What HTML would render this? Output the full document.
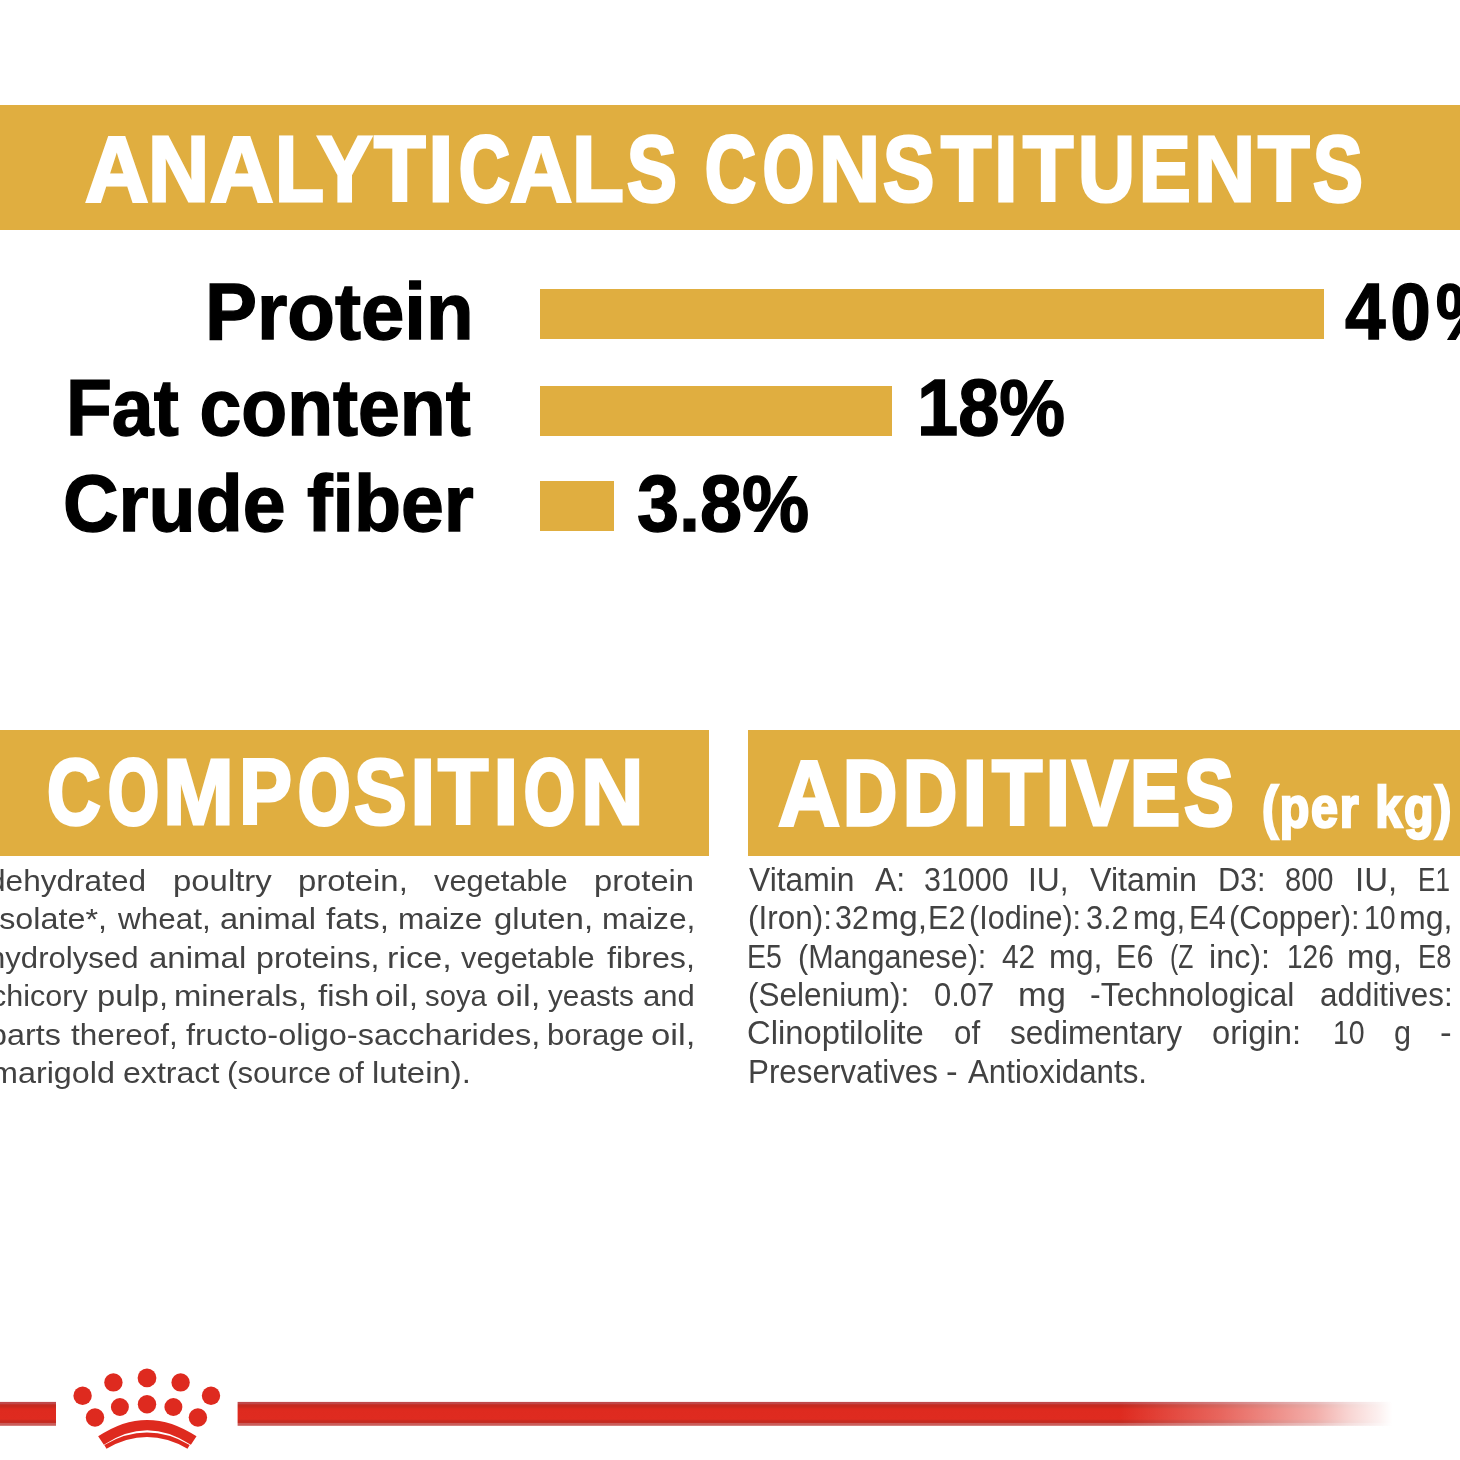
<!DOCTYPE html>
<html><head><meta charset="utf-8"><title>Analyticals constituents</title><style>
html,body{margin:0;padding:0;background:#fff;}
body{width:1460px;height:1460px;position:relative;overflow:hidden;font-family:"Liberation Sans",sans-serif;}
.b{position:absolute;background:#E0AE40;}
.t{position:absolute;white-space:pre;transform-origin:0 0;font-weight:bold;font-family:"Liberation Sans",sans-serif;}
.bt span{position:absolute;white-space:pre;transform-origin:0 0;color:#424242;}
.bl span{font-size:30px;line-height:30px;}
.br span{font-size:32.5px;line-height:32.5px;}
.logo{position:absolute;left:-10px;top:1350px;filter:blur(0.5px);}
.t,.bt,.hl{filter:blur(0.55px);}
.hl{position:absolute;left:0;width:1460px;height:100px;color:#fff;font-weight:bold;}
.hl span{position:absolute;top:0;transform-origin:0 0;white-space:pre;}
.bt{position:absolute;left:0;top:0;width:1460px;height:1460px;}
</style></head>
<body>
<div class="b" style="left:0;top:104.6px;width:1460px;height:125.4px"></div>
<div class="b" style="left:0;top:730px;width:708.7px;height:125.8px"></div>
<div class="b" style="left:747.9px;top:730px;width:712.1px;height:125.8px"></div>
<div class="b" style="left:539.7px;top:288.8px;width:784.7px;height:50.5px"></div>
<div class="b" style="left:539.7px;top:385.8px;width:352.2px;height:50px"></div>
<div class="b" style="left:539.7px;top:481px;width:74.0px;height:50.3px"></div>
<div id="h1" class="hl" style="top:122.45px;font-size:93.50px;line-height:93.50px;-webkit-text-stroke:3px #fff;"><span style="left:85.2px;transform:scaleX(0.940);">A</span><span style="left:148.2px;transform:scaleX(0.906);">N</span><span style="left:210.2px;transform:scaleX(0.940);">A</span><span style="left:274.7px;transform:scaleX(0.858);">L</span><span style="left:317.2px;transform:scaleX(0.888);">Y</span><span style="left:374.3px;transform:scaleX(0.902);">T</span><span style="left:427.8px;transform:scaleX(0.987);">I</span><span style="left:458.6px;transform:scaleX(0.752);-webkit-text-stroke-width:3.8px;">C</span><span style="left:510.2px;transform:scaleX(0.921);">A</span><span style="left:571.9px;transform:scaleX(0.907);">L</span><span style="left:626.6px;transform:scaleX(0.798);-webkit-text-stroke-width:3.4px;">S</span> <span style="left:704.9px;transform:scaleX(0.752);-webkit-text-stroke-width:3.8px;">C</span><span style="left:762.6px;transform:scaleX(0.700);-webkit-text-stroke-width:4.2px;">O</span><span style="left:819.4px;transform:scaleX(0.906);">N</span><span style="left:882.8px;transform:scaleX(0.822);-webkit-text-stroke-width:3.2px;">S</span><span style="left:940.5px;transform:scaleX(0.881);">T</span><span style="left:994.4px;transform:scaleX(0.911);">I</span><span style="left:1023.0px;transform:scaleX(0.881);">T</span><span style="left:1077.8px;transform:scaleX(0.845);">U</span><span style="left:1138.6px;transform:scaleX(0.828);-webkit-text-stroke-width:3.2px;">E</span><span style="left:1194.4px;transform:scaleX(0.906);">N</span><span style="left:1258.0px;transform:scaleX(0.902);">T</span><span style="left:1312.9px;transform:scaleX(0.798);-webkit-text-stroke-width:3.4px;">S</span></div>
<div id="h2" class="hl" style="top:745.44px;font-size:93.40px;line-height:93.40px;-webkit-text-stroke:3px #fff;"><span style="left:47.1px;transform:scaleX(0.796);-webkit-text-stroke-width:3.4px;">C</span><span style="left:107.6px;transform:scaleX(0.701);-webkit-text-stroke-width:4.2px;">O</span><span style="left:163.2px;transform:scaleX(0.910);">M</span><span style="left:238.5px;transform:scaleX(0.851);">P</span><span style="left:297.5px;transform:scaleX(0.720);-webkit-text-stroke-width:4.1px;">O</span><span style="left:353.9px;transform:scaleX(0.847);">S</span><span style="left:410.3px;transform:scaleX(0.988);">I</span><span style="left:438.0px;transform:scaleX(0.882);">T</span><span style="left:492.8px;transform:scaleX(0.988);">I</span><span style="left:523.9px;transform:scaleX(0.701);-webkit-text-stroke-width:4.2px;">O</span><span style="left:580.6px;transform:scaleX(0.928);">N</span></div>
<div id="h3" class="hl" style="top:745.74px;font-size:93.40px;line-height:93.40px;-webkit-text-stroke:3px #fff;"><span style="left:777.7px;transform:scaleX(0.922);">A</span><span style="left:842.6px;transform:scaleX(0.804);-webkit-text-stroke-width:3.4px;">D</span><span style="left:902.6px;transform:scaleX(0.804);-webkit-text-stroke-width:3.4px;">D</span><span style="left:961.6px;transform:scaleX(0.988);">I</span><span style="left:991.7px;transform:scaleX(0.882);">T</span><span style="left:1045.3px;transform:scaleX(0.988);">I</span><span style="left:1071.9px;transform:scaleX(0.901);">V</span><span style="left:1130.1px;transform:scaleX(0.804);-webkit-text-stroke-width:3.4px;">E</span><span style="left:1184.1px;transform:scaleX(0.799);-webkit-text-stroke-width:3.4px;">S</span></div>
<div id="h4" class="t" style="left:1261.60px;top:777.80px;font-size:58.00px;line-height:58.00px;color:#fff;transform:scaleX(0.8350);-webkit-text-stroke:2.6px #fff;letter-spacing:2px;">(per kg)</div>
<div id="l1" class="t" style="left:204.72px;top:271.95px;font-size:79.80px;line-height:79.80px;color:#000;transform:scaleX(0.9772);-webkit-text-stroke:1.4px #000;">Protein</div>
<div id="l2" class="t" style="left:65.90px;top:368.15px;font-size:79.80px;line-height:79.80px;color:#000;transform:scaleX(0.9411);-webkit-text-stroke:1.4px #000;">Fat content</div>
<div id="l3" class="t" style="left:62.54px;top:464.25px;font-size:79.80px;line-height:79.80px;color:#000;transform:scaleX(0.9652);-webkit-text-stroke:1.4px #000;">Crude fiber</div>
<div id="v1" class="t" style="left:1344.80px;top:271.77px;font-size:79.30px;line-height:79.30px;color:#000;transform:scaleX(0.9200);-webkit-text-stroke:1.4px #000;letter-spacing:5.2px;">40%</div>
<div id="v2" class="t" style="left:916.88px;top:368.47px;font-size:79.30px;line-height:79.30px;color:#000;transform:scaleX(0.9332);-webkit-text-stroke:1.4px #000;">18%</div>
<div id="v3" class="t" style="left:636.90px;top:464.17px;font-size:79.30px;line-height:79.30px;color:#000;transform:scaleX(0.9527);-webkit-text-stroke:1.4px #000;">3.8%</div>
<div class="bt bl"><span style="left:-12.4px;top:865.7px;transform:scaleX(1.053)">dehydrated</span> <span style="left:172.5px;top:865.7px;transform:scaleX(1.097)">poultry</span> <span style="left:298.0px;top:865.7px;transform:scaleX(1.097)">protein,</span> <span style="left:433.8px;top:865.7px;transform:scaleX(1.027)">vegetable</span> <span style="left:594.3px;top:865.7px;transform:scaleX(1.091)">protein</span> 
 <span style="left:-8.3px;top:904.2px;transform:scaleX(1.077)">isolate*,</span> <span style="left:117.5px;top:904.2px;transform:scaleX(1.049)">wheat,</span> <span style="left:219.9px;top:904.2px;transform:scaleX(1.086)">animal</span> <span style="left:325.9px;top:904.2px;transform:scaleX(1.111)">fats,</span> <span style="left:398.1px;top:904.2px;transform:scaleX(1.054)">maize</span> <span style="left:493.7px;top:904.2px;transform:scaleX(1.100)">gluten,</span> <span style="left:601.8px;top:904.2px;transform:scaleX(1.057)">maize,</span> 
 <span style="left:-12.1px;top:942.6px;transform:scaleX(1.037)">hydrolysed</span> <span style="left:148.7px;top:942.6px;transform:scaleX(1.100)">animal</span> <span style="left:255.6px;top:942.6px;transform:scaleX(1.073)">proteins,</span> <span style="left:386.7px;top:942.6px;transform:scaleX(1.143)">rice,</span> <span style="left:461.2px;top:942.6px;transform:scaleX(1.027)">vegetable</span> <span style="left:607.2px;top:942.6px;transform:scaleX(1.077)">fibres,</span> 
 <span style="left:-9.2px;top:981.0px;transform:scaleX(1.017)">chicory</span> <span style="left:96.8px;top:981.0px;transform:scaleX(1.093)">pulp,</span> <span style="left:174.3px;top:981.0px;transform:scaleX(1.093)">minerals,</span> <span style="left:318.2px;top:981.0px;transform:scaleX(1.096)">fish</span> <span style="left:374.9px;top:981.0px;transform:scaleX(1.123)">oil,</span> <span style="left:425.4px;top:981.0px;transform:scaleX(0.977)">soya</span> <span style="left:496.1px;top:981.0px;transform:scaleX(1.159)">oil,</span> <span style="left:547.5px;top:981.0px;transform:scaleX(0.991)">yeasts</span> <span style="left:642.5px;top:981.0px;transform:scaleX(1.035)">and</span> 
 <span style="left:-10.7px;top:1019.5px;transform:scaleX(1.077)">parts</span> <span style="left:70.9px;top:1019.5px;transform:scaleX(1.048)">thereof,</span> <span style="left:185.9px;top:1019.5px;transform:scaleX(1.084)">fructo-oligo-saccharides,</span> <span style="left:546.9px;top:1019.5px;transform:scaleX(1.038)">borage</span> <span style="left:651.1px;top:1019.5px;transform:scaleX(1.159)">oil,</span> 
 <span style="left:-9.3px;top:1057.9px;transform:scaleX(1.077)">marigold</span> <span style="left:122.5px;top:1057.9px;transform:scaleX(1.070)">extract</span> <span style="left:226.9px;top:1057.9px;transform:scaleX(1.040)">(source</span> <span style="left:337.8px;top:1057.9px;transform:scaleX(1.029)">of</span> <span style="left:372.0px;top:1057.9px;transform:scaleX(1.099)">lutein).</span> 
</div>
<div class="bt br"><span style="left:748.8px;top:863.6px;transform:scaleX(0.979)">Vitamin</span> <span style="left:875.0px;top:863.6px;transform:scaleX(0.984)">A:</span> <span style="left:923.8px;top:863.6px;transform:scaleX(0.937)">31000</span> <span style="left:1028.4px;top:863.6px;transform:scaleX(0.979)">IU,</span> <span style="left:1090.0px;top:863.6px;transform:scaleX(0.991)">Vitamin</span> <span style="left:1217.6px;top:863.6px;transform:scaleX(0.941)">D3:</span> <span style="left:1285.1px;top:863.6px;transform:scaleX(0.895)">800</span> <span style="left:1354.5px;top:863.6px;transform:scaleX(1.014)">IU,</span> <span style="left:1417.9px;top:863.6px;transform:scaleX(0.804)">E1</span> 
 <span style="left:747.6px;top:902.1px;transform:scaleX(0.968)">(Iron):</span> <span style="left:835.0px;top:902.1px;transform:scaleX(0.934)">32</span> <span style="left:870.5px;top:902.1px;transform:scaleX(1.037)">mg,</span> <span style="left:927.5px;top:902.1px;transform:scaleX(0.944)">E2</span> <span style="left:969.4px;top:902.1px;transform:scaleX(0.940)">(Iodine):</span> <span style="left:1086.3px;top:902.1px;transform:scaleX(0.940)">3.2</span> <span style="left:1133.1px;top:902.1px;transform:scaleX(0.962)">mg,</span> <span style="left:1188.8px;top:902.1px;transform:scaleX(0.927)">E4</span> <span style="left:1229.4px;top:902.1px;transform:scaleX(0.952)">(Copper):</span> <span style="left:1364.3px;top:902.1px;transform:scaleX(0.876)">10</span> <span style="left:1399.3px;top:902.1px;transform:scaleX(0.987)">mg,</span> 
 <span style="left:747.2px;top:940.5px;transform:scaleX(0.880)">E5</span> <span style="left:798.2px;top:940.5px;transform:scaleX(0.939)">(Manganese):</span> <span style="left:1001.9px;top:940.5px;transform:scaleX(0.916)">42</span> <span style="left:1049.3px;top:940.5px;transform:scaleX(0.987)">mg,</span> <span style="left:1116.3px;top:940.5px;transform:scaleX(0.944)">E6</span> <span style="left:1169.8px;top:940.5px;transform:scaleX(0.760)">(Z</span> <span style="left:1209.3px;top:940.5px;transform:scaleX(0.995)">inc):</span> <span style="left:1286.8px;top:940.5px;transform:scaleX(0.863)">126</span> <span style="left:1346.8px;top:940.5px;transform:scaleX(1.012)">mg,</span> <span style="left:1417.8px;top:940.5px;transform:scaleX(0.839)">E8</span> 
 <span style="left:747.6px;top:978.9px;transform:scaleX(0.970)">(Selenium):</span> <span style="left:933.8px;top:978.9px;transform:scaleX(0.951)">0.07</span> <span style="left:1017.9px;top:978.9px;transform:scaleX(1.060)">mg</span> <span style="left:1090.0px;top:978.9px;transform:scaleX(0.984)">-Technological</span> <span style="left:1320.0px;top:978.9px;transform:scaleX(0.966)">additives:</span> 
 <span style="left:747.1px;top:1017.4px;transform:scaleX(1.009)">Clinoptilolite</span> <span style="left:953.8px;top:1017.4px;transform:scaleX(0.962)">of</span> <span style="left:1010.3px;top:1017.4px;transform:scaleX(0.972)">sedimentary</span> <span style="left:1212.4px;top:1017.4px;transform:scaleX(1.006)">origin:</span> <span style="left:1333.0px;top:1017.4px;transform:scaleX(0.876)">10</span> <span style="left:1393.8px;top:1017.4px;transform:scaleX(0.940)">g</span> <span style="left:1439.8px;top:1017.4px;transform:scaleX(1.077)">-</span> 
 <span style="left:747.5px;top:1055.8px;transform:scaleX(0.965)">Preservatives</span> <span style="left:946.1px;top:1055.8px;transform:scaleX(1.077)">-</span> <span style="left:967.5px;top:1055.8px;transform:scaleX(0.962)">Antioxidants.</span> 
</div>
<svg class="logo" width="1480" height="110" viewBox="-10 1350 1480 110">
<defs>
<linearGradient id="bar" x1="0" x2="0" y1="1401.9" y2="1425.8" gradientUnits="userSpaceOnUse">
<stop offset="0" stop-color="#c0494b"/><stop offset="0.08" stop-color="#c0494b"/><stop offset="0.12" stop-color="#c62a20"/><stop offset="0.2" stop-color="#c82a1f"/>
<stop offset="0.3" stop-color="#DE2A1F"/><stop offset="0.72" stop-color="#df2b20"/><stop offset="0.8" stop-color="#c62a20"/><stop offset="0.86" stop-color="#c62a20"/><stop offset="0.9" stop-color="#cb5b58"/><stop offset="1" stop-color="#c95f5c"/></linearGradient>
<linearGradient id="fade" x1="1120" x2="1392" y1="0" y2="0" gradientUnits="userSpaceOnUse">
<stop offset="0" stop-color="#fff" stop-opacity="0"/><stop offset="0.37" stop-color="#fff" stop-opacity="0.28"/><stop offset="0.55" stop-color="#fff" stop-opacity="0.45"/><stop offset="0.72" stop-color="#fff" stop-opacity="0.62"/><stop offset="0.84" stop-color="#fff" stop-opacity="0.8"/><stop offset="0.95" stop-color="#fff" stop-opacity="0.93"/><stop offset="1" stop-color="#fff" stop-opacity="1"/></linearGradient></defs>
<rect x="-10" y="1401.9" width="66" height="23.9" fill="url(#bar)"/>
<rect x="237.6" y="1401.9" width="1155" height="23.9" fill="url(#bar)"/>
<rect x="1120" y="1400" width="274" height="28" fill="url(#fade)"/>
<g fill="#DE2A1F">
<circle cx="82.6" cy="1395.7" r="9.2"/><circle cx="113.4" cy="1382.4" r="9.2"/><circle cx="147" cy="1377.9" r="9.4"/><circle cx="180.6" cy="1382.4" r="9.2"/><circle cx="211" cy="1395.7" r="9.2"/>
<circle cx="95" cy="1417.5" r="9.2"/><circle cx="119.9" cy="1407" r="9"/><circle cx="147" cy="1404.2" r="9.2"/><circle cx="173.4" cy="1407" r="9"/><circle cx="197.9" cy="1417.5" r="9.2"/>
</g>
<path d="M101 1440.6 Q147 1409.6 193.7 1440.6" fill="none" stroke="#DE2A1F" stroke-width="10.2"/>
<path d="M105.4 1446.8 Q147 1422.8 188.6 1446.8" fill="none" stroke="#DE2A1F" stroke-width="4.4"/>
</svg>
</body></html>
